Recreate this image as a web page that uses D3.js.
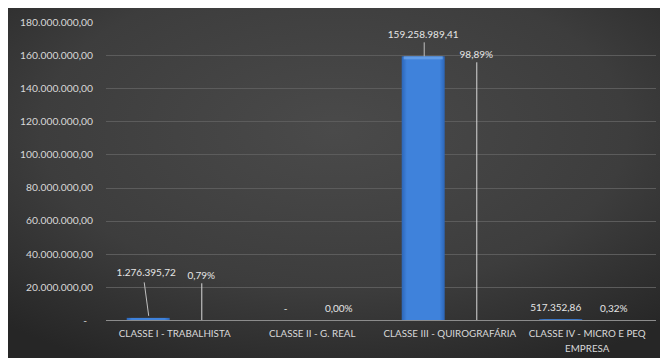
<!DOCTYPE html>
<html><head><meta charset="utf-8">
<script src="https://cdn.jsdelivr.net/npm/d3@7"></script>
<style>html,body{margin:0;padding:0;background:#fff;}svg{display:block;}</style>
</head><body>
<script>
const categories = [["CLASSE I - TRABALHISTA"],["CLASSE II - G. REAL"],["CLASSE III - QUIROGRAFÁRIA"],["CLASSE IV - MICRO E PEQ","EMPRESA"]];
const values = [1276395.72, 0, 159258989.41, 517352.86];
const valueLabels = ["1.276.395,72", "-", "159.258.989,41", "517.352,86"];
const percents = [0.0079, 0, 0.9889, 0.0032];
const percentLabels = ["0,79%", "0,00%", "98,89%", "0,32%"];
const yTicks = [0,20e6,40e6,60e6,80e6,100e6,120e6,140e6,160e6,180e6];
const yTickLabels = ["-","20.000.000,00","40.000.000,00","60.000.000,00","80.000.000,00","100.000.000,00","120.000.000,00","140.000.000,00","160.000.000,00","180.000.000,00"];
const valueLabelLift = [27.5e6, 0, 0, 0];
const percentLabelLift = [27e6, 0, 160.5e6, 0];

(function(){
const W=660,H=358;
const svg=d3.select("body").append("svg").attr("width",W).attr("height",H);
const defs=svg.append("defs");
const bg=defs.append("radialGradient").attr("id","bg").attr("cx","50%").attr("cy","35%").attr("r","75%");
bg.append("stop").attr("offset","0%").attr("stop-color","#4a4a4a");
bg.append("stop").attr("offset","60%").attr("stop-color","#3d3d3d");
bg.append("stop").attr("offset","100%").attr("stop-color","#262626");
const bar=defs.append("linearGradient").attr("id","bar").attr("x1","0").attr("x2","1").attr("y1","0").attr("y2","0");
bar.append("stop").attr("offset","0%").attr("stop-color","#2c66b8");
bar.append("stop").attr("offset","12%").attr("stop-color","#3f82db");
bar.append("stop").attr("offset","88%").attr("stop-color","#3f82db");
bar.append("stop").attr("offset","100%").attr("stop-color","#2c66b8");

svg.append("rect").attr("x",8).attr("y",8).attr("width",W-8).attr("height",H-8).attr("fill","url(#bg)");

const plotL=106, plotR=656, plotTop=22, base=320;
const y=d3.scaleLinear().domain([0,180e6]).range([base,plotTop]);
const x=d3.scaleBand().domain(d3.range(categories.length)).range([plotL,plotR]).padding(0);
const xs=d3.scaleBand().domain([0,1]).range([0,x.bandwidth()]).paddingInner(0.19).paddingOuter(0.39);

const font="Lato, 'Open Sans', sans-serif";
svg.append("g").selectAll("line").data(yTicks.filter(t=>t>0&&t<180e6)).join("line")
 .attr("x1",plotL).attr("x2",plotR).attr("y1",d=>Math.round(y(d))+0.5).attr("y2",d=>Math.round(y(d))+0.5)
 .attr("stroke","#5c5c5c").attr("stroke-width",1);
const yAxis=d3.axisLeft(y).tickValues(yTicks).tickFormat((d,i)=>yTickLabels[i]).tickSize(0).tickPadding(0);
const ga=svg.append("g").attr("transform","translate(93,0)").call(yAxis);
ga.select(".domain").remove();
ga.selectAll("text").attr("fill","#d9d9d9").style("font-family",font).style("font-size","10.3px");
ga.selectAll(".tick").filter(d=>d===0).select("text").attr("dx",-6);

svg.append("g").selectAll("rect").data(values).join("rect")
 .attr("x",(d,i)=>x(i)+xs(0)).attr("width",xs.bandwidth())
 .attr("y",d=>y(d)).attr("height",d=>base-y(d)).attr("fill","url(#bar)");
svg.append("g").selectAll("rect").data(values.map((v,i)=>[v,i]).filter(a=>base-y(a[0])>6)).join("rect")
 .attr("x",a=>x(a[1])+xs(0)+2).attr("width",xs.bandwidth()-4)
 .attr("y",a=>y(a[0])).attr("height",3).attr("fill","#6aa2ea").attr("opacity",0.8);

svg.append("line").attr("x1",plotL).attr("x2",plotR).attr("y1",base+0.5).attr("y2",base+0.5).attr("stroke","#8c8c8c");

const lab=svg.append("g").style("font-family",font).style("font-size","10px").attr("fill","#e6e6e6").attr("text-anchor","middle");
values.forEach((v,i)=>{
  const cx=x(i)+xs(0)+xs.bandwidth()/2;
  let lx=cx, ly;
  if(i===0){ lx=cx-2; ly=y(v+valueLabelLift[i]);
    svg.append("line").attr("x1",lx-2).attr("y1",ly+10).attr("x2",cx+0.5).attr("y2",y(v)-2).attr("stroke","#bfbfbf");
  } else if(i===2){ ly=y(v)-22;
    svg.append("line").attr("x1",cx+1).attr("x2",cx+1).attr("y1",ly+8).attr("y2",y(v)).attr("stroke","#bfbfbf");
  } else if(i===1){ ly=y(v)-12; }
  else { lx=cx-5; ly=y(v)-12; }
  lab.append("text").attr("x",lx).attr("y",ly).attr("dy","0.35em").text(valueLabels[i]);
});
percents.forEach((p,i)=>{
  const cx=x(i)+xs(1)+xs.bandwidth()/2;
  let ly=y(percentLabelLift[i]);
  if(i===0||i===2){
    svg.append("line").attr("x1",cx+0.5).attr("x2",cx+0.5).attr("y1",ly+8).attr("y2",base).attr("stroke","#d9d9d9");
    lab.append("text").attr("x",cx).attr("y",ly).attr("dy","0.35em").text(percentLabels[i]);
  } else {
    lab.append("text").attr("x",cx).attr("y",base-12).attr("dy","0.35em").text(percentLabels[i]);
  }
});

const cl=svg.append("g").style("font-family",font).style("font-size","9.8px").attr("fill","#d9d9d9").attr("text-anchor","middle");
categories.forEach((c,i)=>{
  c.forEach((line,j)=>{
    cl.append("text").attr("x",x(i)+x.bandwidth()/2).attr("y",334+j*15).attr("dy","0.35em").text(line);
  });
});
})();
</script>
</body></html>
